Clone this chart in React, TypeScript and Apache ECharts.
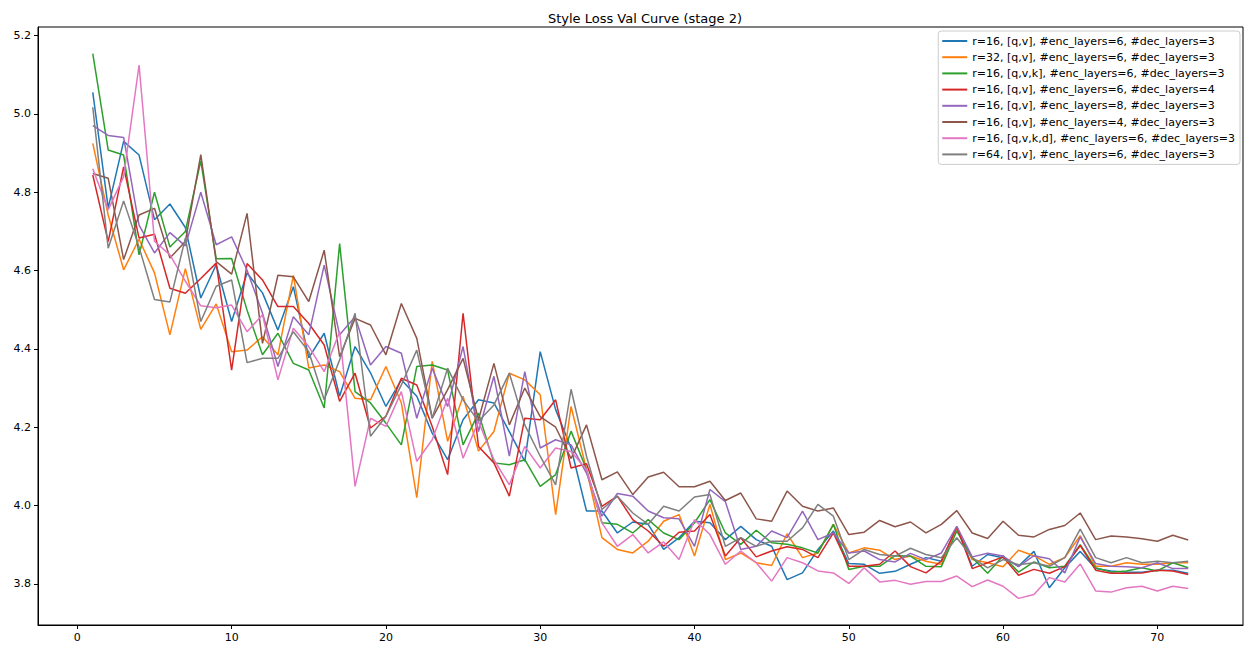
import React, { useEffect, useRef } from "react";
import * as echarts from "echarts";

const epochs = [
  1, 2, 3, 4, 5, 6, 7, 8, 9, 10, 11, 12, 13, 14, 15, 16, 17, 18, 19, 20, 21, 22, 23, 24,
  25, 26, 27, 28, 29, 30, 31, 32, 33, 34, 35, 36, 37, 38, 39, 40, 41, 42, 43, 44, 45, 46, 47, 48,
  49, 50, 51, 52, 53, 54, 55, 56, 57, 58, 59, 60, 61, 62, 63, 64, 65, 66, 67, 68, 69, 70, 71, 72,
];

const seriesNames = [
  "r=16, [q,v], #enc_layers=6, #dec_layers=3",
  "r=32, [q,v], #enc_layers=6, #dec_layers=3",
  "r=16, [q,v,k], #enc_layers=6, #dec_layers=3",
  "r=16, [q,v], #enc_layers=6, #dec_layers=4",
  "r=16, [q,v], #enc_layers=8, #dec_layers=3",
  "r=16, [q,v], #enc_layers=4, #dec_layers=3",
  "r=16, [q,v,k,d], #enc_layers=6, #dec_layers=3",
  "r=64, [q,v], #enc_layers=6, #dec_layers=3",
];

const r16qvEnc6Dec3 = [
  5.055, 4.76, 4.93, 4.895, 4.73, 4.77, 4.71, 4.53, 4.615, 4.47, 4.594, 4.543, 4.448, 4.559, 4.377, 4.44,
  4.279, 4.406, 4.339, 4.253, 4.321, 4.279, 4.185, 4.117, 4.219, 4.27, 4.262, 4.189, 4.113, 4.393, 4.245, 4.147,
  3.986, 3.986, 3.93, 3.958, 3.952, 3.888, 3.918, 3.96, 3.956, 3.913, 3.947, 3.913, 3.896, 3.811, 3.828, 3.888,
  3.935, 3.852, 3.85, 3.827, 3.832, 3.85, 3.867, 3.858, 3.943, 3.845, 3.875, 3.867, 3.845, 3.883, 3.79, 3.841,
  3.883, 3.839, 3.833, 3.83, 3.83, 3.835, 3.835, 3.827,
];

const r32qvEnc6Dec3 = [
  4.925, 4.742, 4.602, 4.68, 4.594, 4.436, 4.605, 4.45, 4.515, 4.393, 4.397, 4.431, 4.385, 4.588, 4.351, 4.359,
  4.342, 4.274, 4.27, 4.355, 4.262, 4.02, 4.368, 4.164, 4.279, 4.139, 4.189, 4.338, 4.321, 4.283, 3.977, 4.253,
  4.092, 3.918, 3.888, 3.879, 3.909, 3.96, 3.977, 3.871, 4.003, 3.862, 3.879, 3.854, 3.847, 3.928, 3.867, 3.879,
  3.952, 3.879, 3.892, 3.886, 3.862, 3.871, 3.858, 3.85, 3.939, 3.862, 3.854, 3.844, 3.886, 3.872, 3.85, 3.867,
  3.923, 3.845, 3.845, 3.854, 3.85, 3.85, 3.854, 3.854,
];

const r16qvkEnc6Dec3 = [
  5.154, 4.908, 4.895, 4.64, 4.8, 4.66, 4.7, 4.88, 4.63, 4.631, 4.499, 4.385, 4.44, 4.363, 4.346, 4.249,
  4.669, 4.291, 4.262, 4.21, 4.155, 4.355, 4.359, 4.346, 4.155, 4.236, 4.109, 4.104, 4.117, 4.049, 4.079, 4.19,
  4.092, 3.956, 3.952, 3.93, 3.964, 3.93, 3.913, 3.956, 4.015, 3.93, 3.901, 3.937, 3.905, 3.901, 3.892, 3.879,
  3.952, 3.837, 3.845, 3.845, 3.872, 3.871, 3.845, 3.844, 3.935, 3.867, 3.827, 3.872, 3.83, 3.856, 3.841, 3.845,
  3.9, 3.841, 3.83, 3.833, 3.841, 3.833, 3.854, 3.841,
];

const r16qvEnc6Dec4 = [
  4.844, 4.674, 4.865, 4.683, 4.693, 4.555, 4.542, 4.58, 4.619, 4.346, 4.618, 4.576, 4.508, 4.508, 4.465, 4.41,
  4.266, 4.338, 4.198, 4.228, 4.325, 4.308, 4.202, 4.079, 4.491, 4.151, 4.109, 4.024, 4.223, 4.219, 4.27, 4.096,
  4.107, 3.998, 4.024, 3.964, 3.935, 3.896, 3.932, 3.935, 3.977, 3.871, 3.918, 3.869, 3.884, 3.895, 3.888, 3.867,
  3.93, 3.845, 3.845, 3.85, 3.884, 3.844, 3.828, 3.858, 3.946, 3.839, 3.854, 3.869, 3.822, 3.837, 3.827, 3.844,
  3.898, 3.835, 3.827, 3.827, 3.828, 3.835, 3.833, 3.824,
];

const r16qvEnc8Dec3 = [
  4.97, 4.945, 4.94, 4.716, 4.645, 4.697, 4.663, 4.8, 4.666, 4.686, 4.601, 4.491, 4.355, 4.482, 4.436, 4.614,
  4.436, 4.482, 4.359, 4.406, 4.389, 4.223, 4.351, 4.253, 4.406, 4.189, 4.33, 4.126, 4.342, 4.147, 4.168, 4.155,
  4.083, 3.973, 4.031, 4.024, 3.986, 3.969, 3.966, 3.896, 4.041, 4.01, 3.888, 3.896, 3.935, 3.918, 3.986, 3.913,
  3.93, 3.879, 3.884, 3.862, 3.856, 3.878, 3.862, 3.879, 3.947, 3.869, 3.878, 3.871, 3.844, 3.872, 3.864, 3.828,
  3.92, 3.852, 3.845, 3.844, 3.841, 3.854, 3.839, 3.839,
];

const r16qvEnc4Dec3 = [
  4.848, 4.836, 4.628, 4.742, 4.759, 4.632, 4.674, 4.896, 4.623, 4.591, 4.746, 4.414, 4.588, 4.584, 4.521, 4.652,
  4.38, 4.478, 4.461, 4.385, 4.516, 4.427, 4.223, 4.296, 4.376, 4.219, 4.363, 4.206, 4.3, 4.227, 4.2, 4.12,
  4.206, 4.066, 4.086, 4.028, 4.073, 4.085, 4.048, 4.048, 4.062, 4.013, 4.032, 3.966, 3.96, 4.037, 3.998, 3.986,
  3.994, 3.926, 3.932, 3.962, 3.946, 3.958, 3.93, 3.952, 3.987, 3.93, 3.916, 3.96, 3.924, 3.92, 3.939, 3.949,
  3.981, 3.913, 3.922, 3.92, 3.915, 3.909, 3.924, 3.912,
];

const r16qvkdEnc6Dec3 = [
  4.86, 4.755, 4.84, 5.125, 4.675, 4.64, 4.573, 4.51, 4.505, 4.512, 4.444, 4.487, 4.321, 4.453, 4.406, 4.342,
  4.444, 4.049, 4.223, 4.202, 4.291, 4.113, 4.168, 4.274, 4.121, 4.215, 4.117, 4.053, 4.151, 4.096, 4.147, 4.138,
  4.092, 3.956, 3.896, 3.926, 3.879, 3.907, 3.862, 3.964, 3.926, 3.85, 3.884, 3.854, 3.807, 3.867, 3.854, 3.833,
  3.828, 3.801, 3.841, 3.805, 3.809, 3.799, 3.806, 3.806, 3.82, 3.793, 3.81, 3.794, 3.763, 3.773, 3.816, 3.805,
  3.851, 3.782, 3.779, 3.79, 3.794, 3.782, 3.794, 3.788,
];

const r64qvEnc6Dec3 = [
  5.017, 4.657, 4.778, 4.66, 4.526, 4.52, 4.683, 4.47, 4.56, 4.576, 4.365, 4.376, 4.376, 4.444, 4.393, 4.27,
  4.372, 4.491, 4.177, 4.228, 4.308, 4.397, 4.223, 4.351, 4.27, 4.215, 4.257, 4.338, 4.206, 4.126, 4.053, 4.297,
  4.126, 3.99, 4.024, 3.981, 3.952, 3.998, 3.986, 4.022, 4.028, 3.896, 3.918, 3.896, 3.909, 3.909, 3.943, 4.003,
  3.973, 3.862, 3.888, 3.875, 3.871, 3.891, 3.875, 3.867, 3.918, 3.867, 3.841, 3.862, 3.849, 3.854, 3.845, 3.867,
  3.94, 3.867, 3.854, 3.867, 3.854, 3.858, 3.854, 3.858,
];

const allValues = [
  r16qvEnc6Dec3,
  r32qvEnc6Dec3,
  r16qvkEnc6Dec3,
  r16qvEnc6Dec4,
  r16qvEnc8Dec3,
  r16qvEnc4Dec3,
  r16qvkdEnc6Dec3,
  r64qvEnc6Dec3,
];

const colors = ["#1f77b4", "#ff7f0e", "#2ca02c", "#d62728", "#9467bd", "#8c564b", "#e377c2", "#7f7f7f"];

const xTicks = [0, 10, 20, 30, 40, 50, 60, 70];
const yTicks = [3.8, 4.0, 4.2, 4.4, 4.6, 4.8, 5.0, 5.2];

const titleText = "Style Loss Val Curve (stage 2)";
const FONT = "DejaVu Sans";

export default function App() {
  const ref = useRef<HTMLDivElement>(null);

  useEffect(() => {
    if (!ref.current) return;
    const chart = echarts.init(ref.current, undefined, { renderer: "svg" });

    const series = allValues.map((vals, si) => ({
      name: seriesNames[si],
      type: "line",
      data: vals.map((v, i) => [epochs[i], v]),
      showSymbol: false,
      symbol: "none",
      lineStyle: { color: colors[si], width: 1.5 },
      itemStyle: { color: colors[si] },
      emphasis: { disabled: true },
    }));

    chart.setOption({
      animation: false,
      backgroundColor: "#ffffff",
      textStyle: { fontFamily: FONT },
      title: {
        text: titleText,
        left: 640,
        top: 7,
        textAlign: "center",
        textStyle: { fontFamily: FONT, fontSize: 13, fontWeight: "normal", color: "#000" },
      },
      grid: {
        left: 38,
        right: 4,
        top: 27,
        bottom: 25,
        show: true,
        borderColor: "#000",
        borderWidth: 1,
        containLabel: false,
      },
      legend: {
        orient: "vertical",
        right: 7,
        top: 31,
        data: seriesNames.map((n) => ({ name: n, icon: "rect" })),
        itemWidth: 25,
        itemHeight: 2,
        itemGap: 4.2,
        padding: [4, 5, 4, 4],
        backgroundColor: "rgba(255,255,255,0.8)",
        borderColor: "#cccccc",
        borderWidth: 1,
        borderRadius: 3,
        selectedMode: false,
        textStyle: { fontFamily: FONT, fontSize: 11, color: "#000", lineHeight: 12 },
      },
      xAxis: {
        type: "value",
        min: -2.55,
        max: 75.55,
        splitLine: { show: false },
        axisLine: { show: true, onZero: false, lineStyle: { color: "#000", width: 1 } },
        axisTick: { show: true, length: 4, customValues: xTicks, lineStyle: { color: "#000" } },
        axisLabel: {
          customValues: xTicks,
          margin: 7,
          fontFamily: FONT,
          fontSize: 11,
          color: "#000",
        },
      },
      yAxis: {
        type: "value",
        min: 3.695,
        max: 5.222,
        splitLine: { show: false },
        axisLine: { show: true, onZero: false, lineStyle: { color: "#000", width: 1 } },
        axisTick: { show: true, length: 4, customValues: yTicks, lineStyle: { color: "#000" } },
        axisLabel: {
          customValues: yTicks,
          margin: 7,
          fontFamily: FONT,
          fontSize: 11,
          color: "#000",
          formatter: (v: number) => v.toFixed(1),
        },
      },
      series,
    });

    return () => chart.dispose();
  }, []);

  return (
    <div
      ref={ref}
      style={{ position: "fixed", left: 0, top: 0, width: 1247, height: 650, background: "#fff" }}
    />
  );
}
